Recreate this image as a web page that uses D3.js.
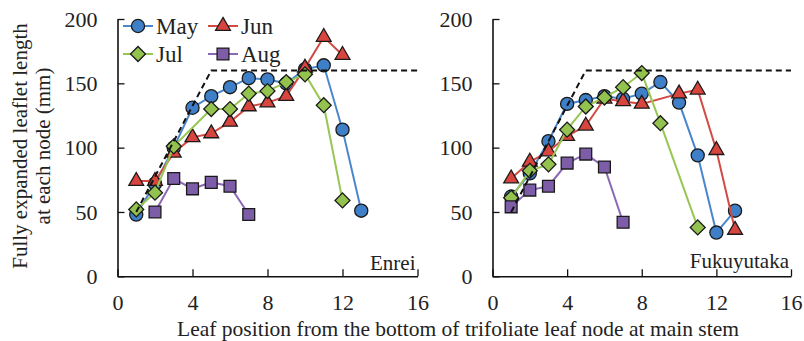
<!DOCTYPE html>
<html>
<head>
<meta charset="utf-8">
<script src="https://cdn.jsdelivr.net/npm/d3@7"></script>
<style>
  body { margin: 0; background: #fff; }
  svg { display: block; font-family: "Liberation Serif", "Times New Roman", Times, serif; }
</style>
</head>
<body>
<svg id="chart" width="804" height="341"></svg>
<script>
// leaf node number (1 = lowest trifoliate node); null = no point at that node
const nodes = d3.range(1, 14);
const months = ["May", "Jun", "Jul", "Aug"];

// Enrei, fully expanded leaflet length (mm)
const enreiMay = [48, 72, 100, 131, 140, 147, 154, 153, 150, 161, 164, 114, 51];
const enreiJun = [74, 74, 96, 108, 111, 120, 132, 135, 140, 162, 186, 172];
const enreiJul = [52, 65, 101, null, 130, 130, 142, 144, 151, 157, 133, 59];
const enreiAug = [null, 50, 76, 68, 73, 70, 48];

// Fukuyutaka
const fukuMay = [62, 80, 105, 134, 137, 140, 138, 142, 151, 135, 94, 34, 51];
const fukuJun = [76, 89, 97, 109, 117, 138, 136, 134, null, 142, 145, 98, 36];
const fukuJul = [61, 82, 87, 114, 132, 139, 147, 158, 119, null, 38];
const fukuAug = [54, 67, 70, 88, 95, 85, 42];

// dashed reference line
const guideNodes = [1, 5, 16];
const guideValues = [50, 160, 160];

const xTicks = [0, 4, 8, 12, 16];
const yTicks = [0, 50, 100, 150, 200];

const styles = {
    May: { line: "#4a86cc", fill: "#3f7fc8", shape: "circle" },
    Jun: { line: "#d24a46", fill: "#d8453f", shape: "triangle" },
    Jul: { line: "#97c653", fill: "#93c24f", shape: "diamond" },
    Aug: { line: "#8a68b5", fill: "#7d5ca8", shape: "square" }
};

const serif = '"Liberation Serif", "Times New Roman", Times, serif';
const svg = d3.select("#chart");

function markerPath(shape) {
    if (shape === "circle") return d3.symbol(d3.symbolCircle, 135)();
    if (shape === "triangle") return d3.symbol(d3.symbolTriangle, 95)();
    if (shape === "square") return d3.symbol(d3.symbolSquare, 140)();
    return d3.symbol(d3.symbolSquare, 112)(); // rotated below
}

function drawMarker(g, shape, x, y, st) {
    g.append("path")
        .attr("d", markerPath(shape))
        .attr("transform", `translate(${x},${y})` + (shape === "diamond" ? " rotate(45)" : ""))
        .attr("fill", st.fill)
        .attr("stroke", "#1a1a1a")
        .attr("stroke-width", 1.3);
}

function drawPanel(left, right, seriesList, label, labelY) {
    const x = d3.scaleLinear().domain([0, 16]).range([left, right]);
    const y = d3.scaleLinear().domain([0, 200]).range([276.3, 19]);
    const g = svg.append("g");

    // series lines + markers, in month order (later on top)
    seriesList.forEach((vals, k) => {
        const st = styles[months[k]];
        const pts = vals.map((v, i) => ({ n: nodes[i], v })).filter(d => d.v != null);
        g.append("path")
            .datum(pts)
            .attr("fill", "none")
            .attr("stroke", st.line)
            .attr("stroke-width", 2)
            .attr("d", d3.line().x(d => x(d.n)).y(d => y(d.v)));
        pts.forEach(d => drawMarker(g, st.shape, x(d.n), y(d.v), st));
    });

    // dashed guide on top
    g.append("path")
        .datum(guideNodes.map((n, i) => [n, guideValues[i]]))
        .attr("fill", "none")
        .attr("stroke", "#111")
        .attr("stroke-width", 2)
        .attr("stroke-dasharray", "6,4")
        .attr("d", d3.line().x(d => x(d[0])).y(d => y(d[1])));

    const xAxis = svg.append("g")
        .attr("transform", "translate(0,276.3)")
        .call(d3.axisBottom(x).tickValues(xTicks).tickSize(-7).tickSizeOuter(0).tickPadding(18));
    const yAxis = svg.append("g")
        .attr("transform", `translate(${left},0)`)
        .call(d3.axisLeft(y).tickValues(yTicks).tickSize(-7).tickSizeOuter(0).tickPadding(20));
    [xAxis, yAxis].forEach(a => {
        a.attr("font-family", serif).attr("font-size", 22);
        a.select(".domain").attr("stroke", "#111").attr("stroke-width", 1.6);
        a.selectAll(".tick line").attr("stroke", "#111").attr("stroke-width", 1.3);
        a.selectAll(".tick text").attr("fill", "#222");
    });

    svg.append("text")
        .attr("x", right - 2).attr("y", labelY)
        .attr("text-anchor", "end")
        .attr("font-size", 21)
        .attr("fill", "#222")
        .text(label);
    return x;
}

drawPanel(117.5, 417.5, [enreiMay, enreiJun, enreiJul, enreiAug], "Enrei", 270);
drawPanel(492.5, 791, [fukuMay, fukuJun, fukuJul, fukuAug], "Fukuyutaka", 268);

// legend inside left panel
const legendPos = [
    { m: "May", x: 123, y: 26 },
    { m: "Jun", x: 208, y: 26 },
    { m: "Jul", x: 123, y: 54 },
    { m: "Aug", x: 208, y: 54 }
];
const lg = svg.append("g");
legendPos.forEach(p => {
    const st = styles[p.m];
    lg.append("line")
        .attr("x1", p.x).attr("x2", p.x + 30)
        .attr("y1", p.y).attr("y2", p.y)
        .attr("stroke", st.line).attr("stroke-width", 2);
    drawMarker(lg, st.shape, p.x + 15, p.y, st);
    lg.append("text")
        .attr("x", p.x + 33).attr("y", p.y)
        .attr("dy", "0.33em")
        .attr("font-size", 23)
        .attr("fill", "#222")
        .text(p.m);
});

// axis titles
svg.append("text")
    .attr("x", 458).attr("y", 336)
    .attr("text-anchor", "middle")
    .attr("font-size", 21.5)
    .attr("fill", "#222")
    .text("Leaf position from the bottom of trifoliate leaf node at main stem");

const yTitle = svg.append("text")
    .attr("transform", "translate(0,146) rotate(-90)")
    .attr("text-anchor", "middle")
    .attr("font-size", 21)
    .attr("fill", "#222");
yTitle.append("tspan").attr("x", 0).attr("y", 27).text("Fully expanded leaflet length");
yTitle.append("tspan").attr("x", 0).attr("y", 50).text("at each node (mm)");
</script>
</body>
</html>
